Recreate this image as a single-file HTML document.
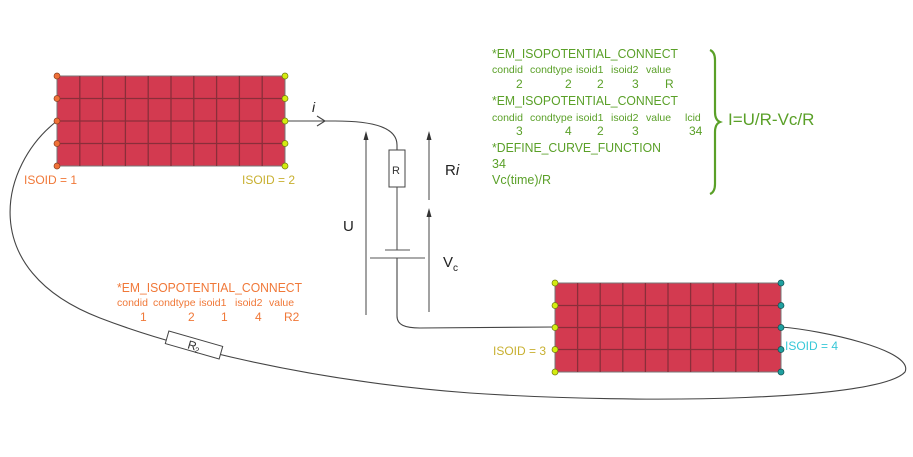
<!DOCTYPE html>
<html><head><meta charset="utf-8"><style>
html,body{margin:0;padding:0;background:#fff;}
svg{display:block;font-family:"Liberation Sans",sans-serif;}
</style></head><body>
<svg width="913" height="457" viewBox="0 0 913 457" xmlns="http://www.w3.org/2000/svg">
<rect width="913" height="457" fill="#fff"/>
<path d="M57,121 C0,165 -25,270 100,318 C170,345 300,380 470,393 C650,405 880,400 905,372 C915,350 820,330 781,327" fill="none" stroke="#444" stroke-width="1.1"/>
<g transform="translate(194,345) rotate(16)">
<rect x="-28" y="-6.5" width="56" height="13" fill="#fff" stroke="#444" stroke-width="1"/>
<text x="-6" y="5" font-size="12" fill="#333">R</text><text x="2" y="7" font-size="8" fill="#333">2</text>
</g>
<path d="M285,121 L335,121 C375,121 397,128 397,145 L397,150" fill="none" stroke="#444" stroke-width="1.1"/>
<path d="M317,116 L325,121 L317,126" fill="none" stroke="#444" stroke-width="1.1"/>
<rect x="389" y="150" width="16" height="37" fill="#fff" stroke="#444" stroke-width="1"/>
<text x="392" y="174" font-size="11" fill="#333">R</text>
<line x1="397" y1="187" x2="397" y2="250" stroke="#555" stroke-width="1.1"/>
<line x1="385" y1="250" x2="410" y2="250" stroke="#555" stroke-width="1.1"/>
<line x1="370" y1="258" x2="425" y2="258" stroke="#555" stroke-width="1.1"/>
<path d="M397,258 L397,316 C397,325 405,328 420,328 L555,327" fill="none" stroke="#444" stroke-width="1.1"/>
<line x1="366" y1="315" x2="366" y2="134" stroke="#444" stroke-width="1"/>
<path d="M363.5,140 L366,131 L368.5,140Z" fill="#333"/>
<line x1="429" y1="200" x2="429" y2="134" stroke="#444" stroke-width="1"/>
<path d="M426.5,140 L429,131 L431.5,140Z" fill="#333"/>
<line x1="429" y1="312" x2="429" y2="211" stroke="#444" stroke-width="1"/>
<path d="M426.5,217 L429,208 L431.5,217Z" fill="#333"/>
<text x="312" y="112" font-size="14" font-style="italic" fill="#222">i</text>
<text x="445" y="175" font-size="15" fill="#222">R<tspan font-style="italic">i</tspan></text>
<text x="343" y="231" font-size="15" fill="#222">U</text>
<text x="443" y="267" font-size="15" fill="#222">V<tspan font-size="10" dy="4">c</tspan></text>

<rect x="57" y="76" width="228" height="90" fill="#d33a50" stroke="#777" stroke-width="1"/>
<g stroke="#8a2e3a" stroke-width="1.3">
<line x1="79.8" y1="76" x2="79.8" y2="166"/><line x1="102.6" y1="76" x2="102.6" y2="166"/><line x1="125.4" y1="76" x2="125.4" y2="166"/><line x1="148.2" y1="76" x2="148.2" y2="166"/><line x1="171" y1="76" x2="171" y2="166"/><line x1="193.8" y1="76" x2="193.8" y2="166"/><line x1="216.6" y1="76" x2="216.6" y2="166"/><line x1="239.4" y1="76" x2="239.4" y2="166"/><line x1="262.2" y1="76" x2="262.2" y2="166"/>
<line x1="57" y1="98.5" x2="285" y2="98.5"/><line x1="57" y1="121" x2="285" y2="121"/><line x1="57" y1="143.5" x2="285" y2="143.5"/>
</g>
<g fill="#f07038" stroke="#8a4020" stroke-width="0.7">
<circle cx="57" cy="76" r="3"/><circle cx="57" cy="98.5" r="3"/><circle cx="57" cy="121" r="3"/><circle cx="57" cy="143.5" r="3"/><circle cx="57" cy="166" r="3"/>
</g>
<g fill="#d4ec10" stroke="#707a10" stroke-width="0.7">
<circle cx="285" cy="76" r="3"/><circle cx="285" cy="98.5" r="3"/><circle cx="285" cy="121" r="3"/><circle cx="285" cy="143.5" r="3"/><circle cx="285" cy="166" r="3"/>
</g>
<text x="24" y="184" font-size="12" fill="#f07838">ISOID = 1</text>
<text x="242" y="184" font-size="12" fill="#c8b030">ISOID = 2</text>

<rect x="555" y="283" width="226" height="89" fill="#d33a50" stroke="#777" stroke-width="1"/>
<g stroke="#8a2e3a" stroke-width="1.3">
<line x1="577.6" y1="283" x2="577.6" y2="372"/><line x1="600.2" y1="283" x2="600.2" y2="372"/><line x1="622.8" y1="283" x2="622.8" y2="372"/><line x1="645.4" y1="283" x2="645.4" y2="372"/><line x1="668" y1="283" x2="668" y2="372"/><line x1="690.6" y1="283" x2="690.6" y2="372"/><line x1="713.2" y1="283" x2="713.2" y2="372"/><line x1="735.8" y1="283" x2="735.8" y2="372"/><line x1="758.4" y1="283" x2="758.4" y2="372"/>
<line x1="555" y1="305.5" x2="781" y2="305.5"/><line x1="555" y1="327.5" x2="781" y2="327.5"/><line x1="555" y1="349.5" x2="781" y2="349.5"/>
</g>
<g fill="#d4ec10" stroke="#707a10" stroke-width="0.7">
<circle cx="555" cy="283" r="3"/><circle cx="555" cy="305.5" r="3"/><circle cx="555" cy="327.5" r="3"/><circle cx="555" cy="349.5" r="3"/><circle cx="555" cy="372" r="3"/>
</g>
<g fill="#20a0a0" stroke="#105050" stroke-width="0.7">
<circle cx="781" cy="283" r="3"/><circle cx="781" cy="305.5" r="3"/><circle cx="781" cy="327.5" r="3"/><circle cx="781" cy="349.5" r="3"/><circle cx="781" cy="372" r="3"/>
</g>
<text x="493" y="355" font-size="12" fill="#c8b030">ISOID = 3</text>
<text x="785" y="350" font-size="12" fill="#38c8d8">ISOID = 4</text>

<g fill="#f07838">
<text x="117" y="292" font-size="13" textLength="185" lengthAdjust="spacingAndGlyphs">*EM_ISOPOTENTIAL_CONNECT</text>
<text y="306" font-size="10.5"><tspan x="117">condid</tspan><tspan x="153">condtype</tspan><tspan x="199">isoid1</tspan><tspan x="235">isoid2</tspan><tspan x="269">value</tspan></text>
<text y="321" font-size="12"><tspan x="140">1</tspan><tspan x="188">2</tspan><tspan x="221">1</tspan><tspan x="255">4</tspan><tspan x="284">R2</tspan></text>
</g>

<g fill="#5aa028">
<text x="492" y="58" font-size="13" textLength="186" lengthAdjust="spacingAndGlyphs">*EM_ISOPOTENTIAL_CONNECT</text>
<text y="73" font-size="10.5"><tspan x="492">condid</tspan><tspan x="530">condtype</tspan><tspan x="576">isoid1</tspan><tspan x="611">isoid2</tspan><tspan x="646">value</tspan></text>
<text y="88" font-size="12"><tspan x="516">2</tspan><tspan x="565">2</tspan><tspan x="597">2</tspan><tspan x="632">3</tspan><tspan x="665">R</tspan></text>
<text x="492" y="105" font-size="13" textLength="186" lengthAdjust="spacingAndGlyphs">*EM_ISOPOTENTIAL_CONNECT</text>
<text y="121" font-size="10.5"><tspan x="492">condid</tspan><tspan x="530">condtype</tspan><tspan x="576">isoid1</tspan><tspan x="611">isoid2</tspan><tspan x="646">value</tspan><tspan x="685">lcid</tspan></text>
<text y="135" font-size="12"><tspan x="516">3</tspan><tspan x="565">4</tspan><tspan x="597">2</tspan><tspan x="632">3</tspan><tspan x="689">34</tspan></text>
<text x="492" y="152" font-size="13" textLength="169" lengthAdjust="spacingAndGlyphs">*DEFINE_CURVE_FUNCTION</text>
<text x="492" y="168" font-size="12.5">34</text>
<text x="492" y="184" font-size="12.5">Vc(time)/R</text>
<text x="728" y="125" font-size="17">I=U/R-Vc/R</text>
</g>
<path d="M710,50 Q715,52 715,60 L715,112 Q715,120 720,122 Q715,124 715,132 L715,184 Q715,192 710,194" fill="none" stroke="#5aa028" stroke-width="2.2"/>
</svg>
</body></html>
